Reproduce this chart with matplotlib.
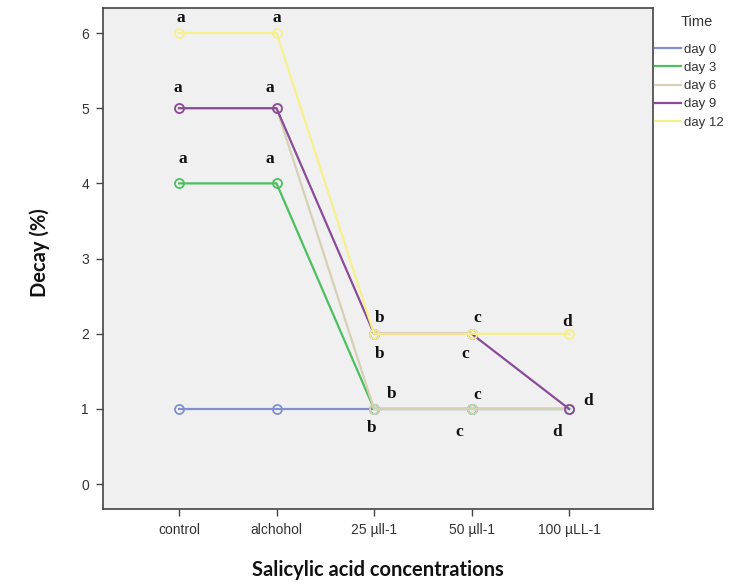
import matplotlib.pyplot as plt

# Decay (%) per salicylic acid treatment, one series per storage day
concentrations = ['control', 'alchohol', '25 µll-1', '50 µll-1', '100 µLL-1']
days = ['day 0', 'day 3', 'day 6', 'day 9', 'day 12']
day0 = [1, 1, 1, 1, 1]
day3 = [4, 4, 1, 1, 1]
day6 = [5, 5, 1, 1, 1]
day9 = [5, 5, 2, 2, 1]
day12 = [6, 6, 2, 2, 2]
colors = ['#8090d0', '#4cc060', '#d6d0b4', '#8a4c98', '#f6f08c']

# significance letters: (x index, y value, letter)
letters = [
    (0.02, 6.2, 'a'), (1.0, 6.2, 'a'),
    (-0.01, 5.27, 'a'), (0.93, 5.27, 'a'),
    (0.04, 4.33, 'a'), (0.93, 4.33, 'a'),
    (2.06, 2.21, 'b'), (3.06, 2.21, 'c'), (3.98, 2.15, 'd'),
    (2.06, 1.73, 'b'), (2.94, 1.73, 'c'),
    (2.18, 1.2, 'b'), (3.06, 1.18, 'c'), (4.2, 1.1, 'd'),
    (1.97, 0.74, 'b'), (2.87, 0.69, 'c'), (3.88, 0.7, 'd'),
]

plt.rcParams['font.family'] = ['Liberation Sans', 'DejaVu Sans']

fig = plt.figure(figsize=(7.3, 5.85), dpi=100)
ax = fig.add_axes([0.141, 0.130, 0.7535, 0.856])
ax.set_facecolor('#f0f0f0')

x = range(len(concentrations))
for vals, lab, col in zip([day0, day3, day6, day9, day12], days, colors):
    ax.plot(x, vals, color=col, lw=1.6, label=lab,
            marker='o', ms=6.5, mfc='none', mec=col, mew=1.3)

for xi, yi, t in letters:
    ax.text(xi, yi, t, ha='center', va='center', fontsize=12.5,
            fontweight='bold', family='Liberation Serif', color='#111111')

ax.set_xlim(-0.78, 4.86)
ax.set_ylim(-0.33, 6.33)
ax.set_xticks(list(x))
ax.set_xticklabels(concentrations)
ax.set_yticks(range(7))
ax.tick_params(direction='out', length=5, width=1, colors='#444444',
               labelsize=10, labelcolor='#333333', pad=5)
for s in ax.spines.values():
    s.set_color('#444444')
    s.set_linewidth(1.2)

fig.text(0.055, 0.569, 'Decay (%)', rotation=90, ha='center', va='center',
         fontsize=14.5, fontweight='bold', family='Lato', color='#111111')
fig.text(0.518, 0.025, 'Salicylic acid concentrations', ha='center',
         va='center', fontsize=14.5, fontweight='bold', family='Lato',
         color='#111111')

# legend title as its own text, entries below it
fig.text(0.955, 0.962, 'Time', ha='center', va='center', fontsize=10.5,
         color='#333333')
leg = fig.legend(loc='upper left', bbox_to_anchor=(0.893, 0.93),
                 frameon=False, fontsize=9.5,
                 handlelength=2.0, handletextpad=0.2, labelspacing=0.45,
                 borderaxespad=0.0, borderpad=0.2)
for h in leg.legend_handles:
    h.set_marker('')
for t in leg.get_texts():
    t.set_color('#333333')

plt.savefig('out.png', dpi=100)
